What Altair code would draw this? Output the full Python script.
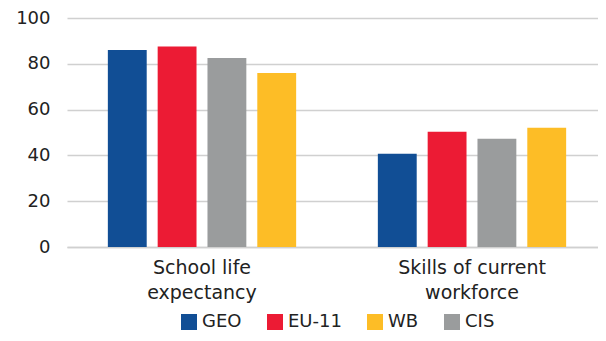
import altair as alt
import pandas as pd

categories = ["School life expectancy", "Skills of current workforce"]
category_lines = [["School life", "expectancy"], ["Skills of current", "workforce"]]
series = ["GEO", "EU-11", "CIS", "WB"]
legend_order = ["GEO", "EU-11", "WB", "CIS"]
colors = {"GEO": "#114E95", "EU-11": "#EC1B34", "WB": "#FDBD26", "CIS": "#9A9C9D"}
values = {
    "GEO": [86.0, 40.7],
    "EU-11": [87.6, 50.3],
    "CIS": [82.5, 47.3],
    "WB": [76.0, 52.1],
}
y_ticks = [0, 20, 40, 60, 80, 100]

rows = []
for s in series:
    for c, v in zip(categories, values[s]):
        rows.append({"category": c, "series": s, "value": v})
df = pd.DataFrame(rows)

label_expr = " : ".join(
    [f"datum.value == '{c}' ? {lines!r}" for c, lines in zip(categories, category_lines)]
    + ["datum.value"]
)

FONT = "DejaVu Sans"
TXT = "#222222"

chart = alt.Chart(df).mark_bar().encode(
    x=alt.X(
        "category:N",
        sort=categories,
        title=None,
        scale=alt.Scale(paddingInner=0, paddingOuter=0, range=[0, 540]),
        axis=alt.Axis(
            labelAngle=0,
            labelExpr=label_expr,
            labelFontSize=19,
            labelColor=TXT,
            labelFont=FONT,
            labelPadding=11,
            labelLineHeight=25,
            ticks=False,
            domainColor="#d0d0d0",
            domainWidth=1.5,
            grid=False,
        ),
    ),
    xOffset=alt.XOffset(
        "series:N", sort=series, scale=alt.Scale(paddingInner=0.22, paddingOuter=0.82)
    ),
    y=alt.Y(
        "value:Q",
        title=None,
        scale=alt.Scale(domain=[0, 100], nice=False),
        axis=alt.Axis(
            values=y_ticks,
            labelFontSize=18,
            labelColor=TXT,
            labelFont=FONT,
            labelPadding=17,
            ticks=False,
            domain=False,
            gridColor="#d0d0d0",
            gridWidth=1.5,
        ),
    ),
    color=alt.Color(
        "series:N",
        scale=alt.Scale(domain=legend_order, range=[colors[s] for s in legend_order]),
        legend=alt.Legend(
            title=None,
            orient="none",
            legendX=113,
            legendY=295,
            direction="horizontal",
            symbolType="square",
            symbolSize=256,
            symbolStrokeWidth=0,
            symbolOpacity=1,
            labelFontSize=18,
            labelFont=FONT,
            labelColor=TXT,
            columnPadding=24,
            labelOffset=4,
        ),
    ),
).properties(
    width=531,
    height=229,
    autosize=alt.AutoSizeParams(type="none"),
    padding={"left": 59, "top": 10, "right": 0, "bottom": 86},
).configure_view(stroke=None)

chart.save("out.html", embed_options={"renderer": "svg", "actions": False})
